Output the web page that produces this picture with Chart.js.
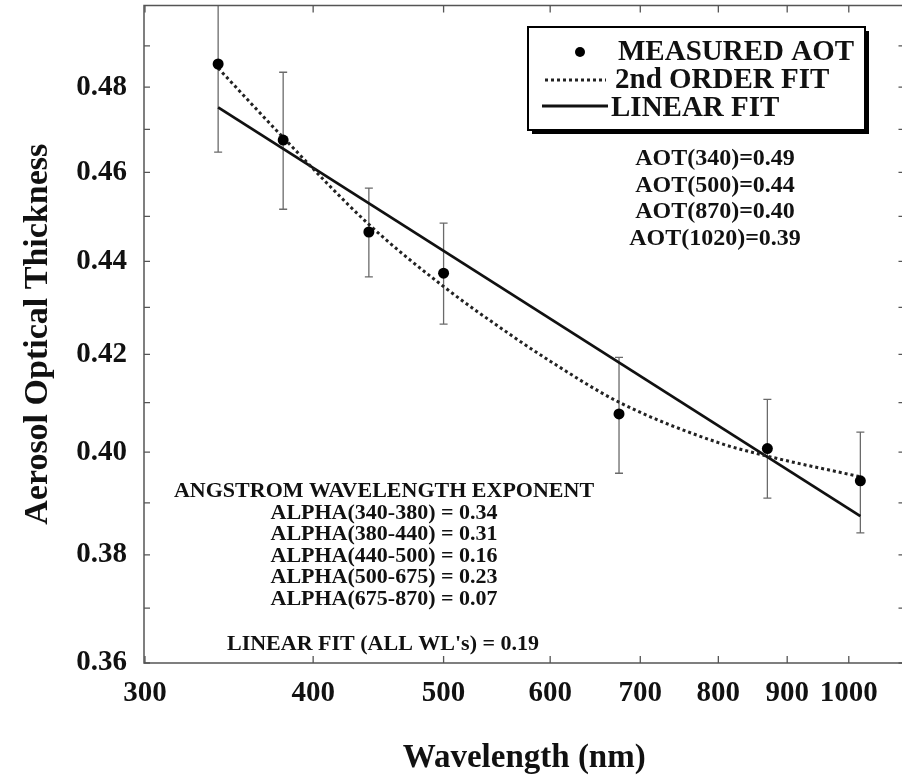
<!DOCTYPE html>
<html><head><meta charset="utf-8">
<script src="https://cdn.jsdelivr.net/npm/chart.js@4/dist/chart.umd.min.js"></script>
<style>
html,body{margin:0;padding:0;background:#fff;overflow:hidden;width:902px;height:776px}
#wrap{width:910px;height:776px;position:relative}
</style>
</head><body><div id="wrap"><canvas id="c" width="910" height="776"></canvas></div>
<script>
// ---- data ----
const wavelengths   = [340, 380, 440, 500, 675, 870, 1020];
const measuredAot   = [0.4856, 0.4675, 0.4465, 0.4374, 0.4077, 0.4007, 0.3943];
const errLow        = [0.4647, 0.4516, 0.4366, 0.4264, 0.3958, 0.3909, 0.3842];
const errHigh       = [0.5065, 0.4836, 0.4564, 0.4485, 0.4194, 0.4107, 0.4040];
const fit2Wavelengths = [340, 380, 440, 500, 561, 600, 675, 800, 870, 1020];
const fit2Aot         = [0.4846, 0.4681, 0.4482, 0.4345, 0.4241, 0.4186, 0.4101, 0.4019, 0.3992, 0.3951];
const linearWavelengths = [340, 1020];
const linearAot         = [0.4752, 0.3874];
const seriesLabels = ['MEASURED AOT', '2nd ORDER FIT', 'LINEAR FIT'];
const xTickValues = [300, 400, 500, 600, 700, 800, 900, 1000];
const yTickValues = [0.36, 0.38, 0.40, 0.42, 0.44, 0.46, 0.48];
const yMinorTickValues = [0.37, 0.39, 0.41, 0.43, 0.45, 0.47, 0.49];
const aotLines = ['AOT(340)=0.49', 'AOT(500)=0.44', 'AOT(870)=0.40', 'AOT(1020)=0.39'];
const angstromLines = ['ANGSTROM WAVELENGTH EXPONENT', 'ALPHA(340-380) = 0.34', 'ALPHA(380-440) = 0.31',
  'ALPHA(440-500) = 0.16', 'ALPHA(500-675) = 0.23', 'ALPHA(675-870) = 0.07'];
const linearFitNote = "LINEAR FIT (ALL WL's) = 0.19";
const xTitle = 'Wavelength (nm)';
const yTitle = 'Aerosol Optical Thickness';

const SERIF = '"Liberation Serif", "Times New Roman", serif';

const decor = {
  id: 'decor',
  beforeDatasetsDraw(chart) {
    const {ctx, chartArea: a, scales: {x, y}} = chart;
    ctx.save();
    ctx.beginPath(); ctx.rect(a.left, a.top, a.right - a.left, a.bottom - a.top); ctx.clip();
    ctx.strokeStyle = '#6a6a6a'; ctx.lineWidth = 1.3;
    wavelengths.forEach((w, i) => {
      const px = x.getPixelForValue(w);
      const y1 = y.getPixelForValue(errHigh[i]), y2 = y.getPixelForValue(errLow[i]);
      ctx.beginPath();
      ctx.moveTo(px, y1); ctx.lineTo(px, y2);
      ctx.moveTo(px - 4, y1); ctx.lineTo(px + 4, y1);
      ctx.moveTo(px - 4, y2); ctx.lineTo(px + 4, y2);
      ctx.stroke();
    });
    ctx.restore();
  },
  afterDraw(chart) {
    const {ctx, chartArea: a, scales: {x, y}} = chart;
    ctx.save();
    // frame
    ctx.strokeStyle = '#555'; ctx.lineWidth = 1.5;
    ctx.strokeRect(a.left, a.top, a.right - a.left, a.bottom - a.top);
    // inward ticks
    ctx.lineWidth = 1.3;
    ctx.beginPath();
    yTickValues.concat(yMinorTickValues).forEach(v => {
      const py = y.getPixelForValue(v);
      ctx.moveTo(a.left, py); ctx.lineTo(a.left + 6, py);
      ctx.moveTo(a.right, py); ctx.lineTo(a.right - 6, py);
    });
    xTickValues.forEach(v => {
      const px = x.getPixelForValue(v);
      ctx.moveTo(px, a.bottom); ctx.lineTo(px, a.bottom - 7);
      ctx.moveTo(px, a.top); ctx.lineTo(px, a.top + 7);
    });
    ctx.stroke();

    // legend box with shadow
    const bx = 528, by = 27, bw = 337, bh = 103;
    ctx.fillStyle = '#000';
    ctx.fillRect(bx + 4, by + 4, bw, bh);
    ctx.fillStyle = '#fff';
    ctx.fillRect(bx, by, bw, bh);
    ctx.strokeStyle = '#000'; ctx.lineWidth = 2;
    ctx.strokeRect(bx, by, bw, bh);
    const ds = chart.data.datasets;
    ctx.fillStyle = '#000';
    ctx.beginPath(); ctx.arc(580, 52, 5, 0, Math.PI * 2); ctx.fill();
    ctx.strokeStyle = '#222'; ctx.lineWidth = 3; ctx.setLineDash([3, 3]);
    ctx.beginPath(); ctx.moveTo(545, 80); ctx.lineTo(606, 80); ctx.stroke();
    ctx.setLineDash([]); ctx.lineWidth = 2.8; ctx.strokeStyle = '#111';
    ctx.beginPath(); ctx.moveTo(542, 106); ctx.lineTo(608, 106); ctx.stroke();
    ctx.font = 'bold 29px ' + SERIF; ctx.textAlign = 'left'; ctx.textBaseline = 'alphabetic';
    ctx.fillStyle = '#111';
    ctx.fillText(ds[0].label, 618, 60);
    ctx.fillText(ds[1].label, 615, 88);
    ctx.fillText(ds[2].label, 611, 116);

    // AOT text
    ctx.font = 'bold 24px ' + SERIF; ctx.textAlign = 'center';
    aotLines.forEach((t, i) => ctx.fillText(t, 715, 165 + i * 26.7));
    // Angstrom text
    ctx.font = 'bold 22px ' + SERIF;
    angstromLines.forEach((t, i) => ctx.fillText(t, 384, 497 + i * 21.6));
    ctx.fillText(linearFitNote, 383, 650);
    ctx.restore();
  }
};

const zeroPad = s => { s.paddingTop = 0; s.paddingBottom = 0; s.paddingLeft = 0; s.paddingRight = 0; };

new Chart(document.getElementById('c'), {
  type: 'scatter',
  data: {
    datasets: [
      { label: seriesLabels[0], data: wavelengths.map((w, i) => ({x: w, y: measuredAot[i]})),
        backgroundColor: '#000', borderColor: '#000', pointRadius: 5.5, borderWidth: 0 },
      { label: seriesLabels[1], data: fit2Wavelengths.map((w, i) => ({x: w, y: fit2Aot[i]})),
        showLine: true, pointRadius: 0, borderColor: '#222', borderWidth: 3, borderDash: [3, 3],
        cubicInterpolationMode: 'monotone', fill: false },
      { label: seriesLabels[2], data: linearWavelengths.map((w, i) => ({x: w, y: linearAot[i]})),
        showLine: true, pointRadius: 0, borderColor: '#111', borderWidth: 2.8, fill: false }
    ]
  },
  options: {
    responsive: false, animation: false, devicePixelRatio: 1,
    layout: {padding: {top: 5, right: 1, bottom: 0, left: 0}},
    plugins: {legend: {display: false}, tooltip: {enabled: false}},
    scales: {
      x: {
        type: 'logarithmic', min: 299.5, max: 1100,
        afterBuildTicks: s => { s.ticks = xTickValues.map(v => ({value: v})); },
        afterFit: s => { s.height = 113; zeroPad(s); },
        ticks: {callback: v => String(v), color: '#111', padding: 13, maxRotation: 0, autoSkip: false,
          font: {family: SERIF, size: 29, weight: 'bold'}},
        grid: {display: false, drawTicks: false}, border: {display: false},
        title: {display: true, text: xTitle, color: '#111', padding: {top: 0, bottom: 1},
          font: {family: SERIF, size: 33, weight: 'bold', lineHeight: 1}}
      },
      y: {
        type: 'logarithmic', min: 0.36, max: 0.50,
        afterBuildTicks: s => { s.ticks = yTickValues.map(v => ({value: v})); },
        afterFit: s => { s.width = 144; zeroPad(s); },
        ticks: {callback: v => Number(v).toFixed(2), color: '#111', padding: 17, autoSkip: false,
          font: {family: SERIF, size: 29, weight: 'bold'}},
        grid: {display: false, drawTicks: false}, border: {display: false},
        title: {display: true, text: yTitle, color: '#111', padding: {top: 21, bottom: 0},
          font: {family: SERIF, size: 34, weight: 'bold', lineHeight: 1}}
      }
    }
  },
  plugins: [decor]
});
</script>
</body></html>
